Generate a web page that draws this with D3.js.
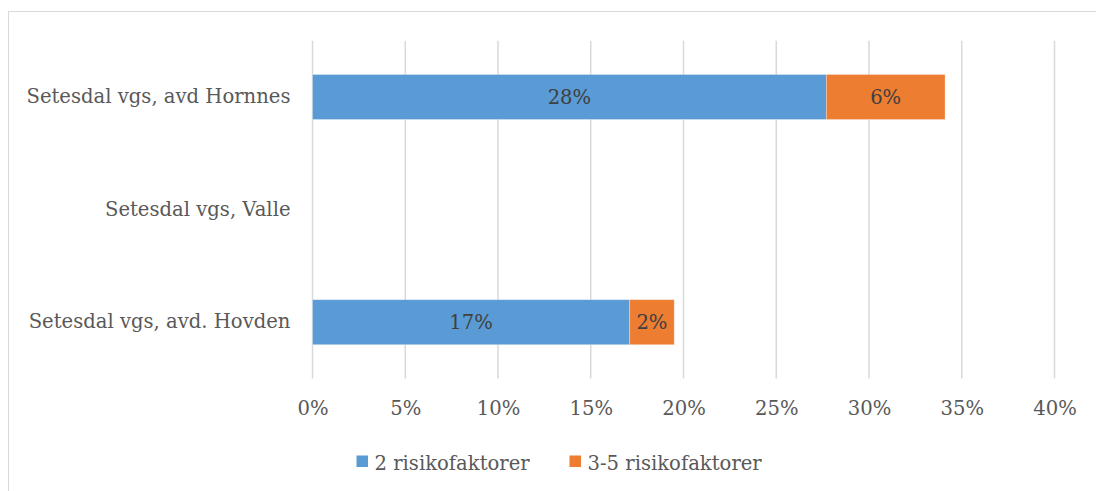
<!DOCTYPE html>
<html lang="no">
<head>
<meta charset="UTF-8">
<title>Risikofaktorer</title>
<script src="https://d3js.org/d3.v7.min.js"></script>
<style>
  body { margin: 0; background: #fff; font-family: "DejaVu Serif", serif; }
  .tick text { fill: #595959; }
</style>
</head>
<body>
<svg width="1096" height="491"></svg>
<script>
const skoler = ["Setesdal vgs, avd Hornnes", "Setesdal vgs, Valle", "Setesdal vgs, avd. Hovden"];
const toFaktorer = [27.7, 0, 17.1];
const treFemFaktorer = [6.4, 0, 2.4];
const serier = ["2 risikofaktorer", "3-5 risikofaktorer"];
const farger = ["#5b9bd5", "#ed7d31"];
const xTicks = [0, 5, 10, 15, 20, 25, 30, 35, 40];

const svg = d3.select("svg");
const fs = 19.6;

svg.append("rect")
  .attr("x", 8.5).attr("y", 11.5)
  .attr("width", 1200).attr("height", 600)
  .attr("fill", "none").attr("stroke", "#d9d9d9");

const x = d3.scaleLinear().domain([0, 40]).range([312.5, 1054.5]);
const y = d3.scaleBand().domain(skoler).range([40.7, 378.5]).paddingInner(0.6).paddingOuter(0.3);

const rows = skoler.map((s, i) => ({ skole: s, a: toFaktorer[i], b: treFemFaktorer[i] }));
const stack = d3.stack().keys(["a", "b"])(rows);

// rutenett
svg.append("g").selectAll("line").data(xTicks).join("line")
  .attr("x1", d => x(d)).attr("x2", d => x(d))
  .attr("y1", 40.7).attr("y2", 378.5)
  .attr("stroke", "#d9d9d9").attr("stroke-width", 1.5);

stack.forEach((layer, k) => {
  const g = svg.append("g");
  const data = layer.filter(d => d[1] > d[0]);
  g.selectAll("rect").data(data).join("rect")
    .attr("x", d => x(d[0]))
    .attr("y", d => y(d.data.skole))
    .attr("width", d => x(d[1]) - x(d[0]))
    .attr("height", y.bandwidth())
    .attr("fill", farger[k])
    .attr("stroke", "#fff").attr("stroke-opacity", 0.4).attr("stroke-width", 0.75);
  g.selectAll("text").data(data).join("text")
    .attr("x", d => (x(d[0]) + x(d[1])) / 2)
    .attr("y", d => y(d.data.skole) + y.bandwidth() / 2)
    .attr("dy", "0.36em")
    .attr("text-anchor", "middle")
    .attr("font-size", fs).attr("fill", "#404040")
    .text(d => Math.round(d[1] - d[0]) + "%");
});

// kategorier
const yAxis = svg.append("g").attr("transform", "translate(312.5,0)")
  .call(d3.axisLeft(y).tickSize(0).tickPadding(22));
yAxis.select(".domain").remove();
yAxis.selectAll("text").attr("font-size", fs).attr("font-family", "DejaVu Serif");

// x-akse
const xAxis = svg.append("g").attr("transform", "translate(0,378.5)")
  .call(d3.axisBottom(x).tickValues(xTicks).tickSize(0).tickPadding(23).tickFormat(d => d + "%"));
xAxis.select(".domain").remove();
xAxis.selectAll("text").attr("font-size", fs).attr("font-family", "DejaVu Serif");

// forklaring
const legend = svg.append("g");
const lx = [356.5, 569.5];
serier.forEach((s, i) => {
  legend.append("rect").attr("x", lx[i]).attr("y", 455.5).attr("width", 11.5).attr("height", 11.5).attr("fill", farger[i]);
  legend.append("text").attr("x", lx[i] + 18).attr("y", 469.5)
    .attr("font-size", fs).attr("fill", "#595959").text(s);
});
</script>
</body>
</html>
